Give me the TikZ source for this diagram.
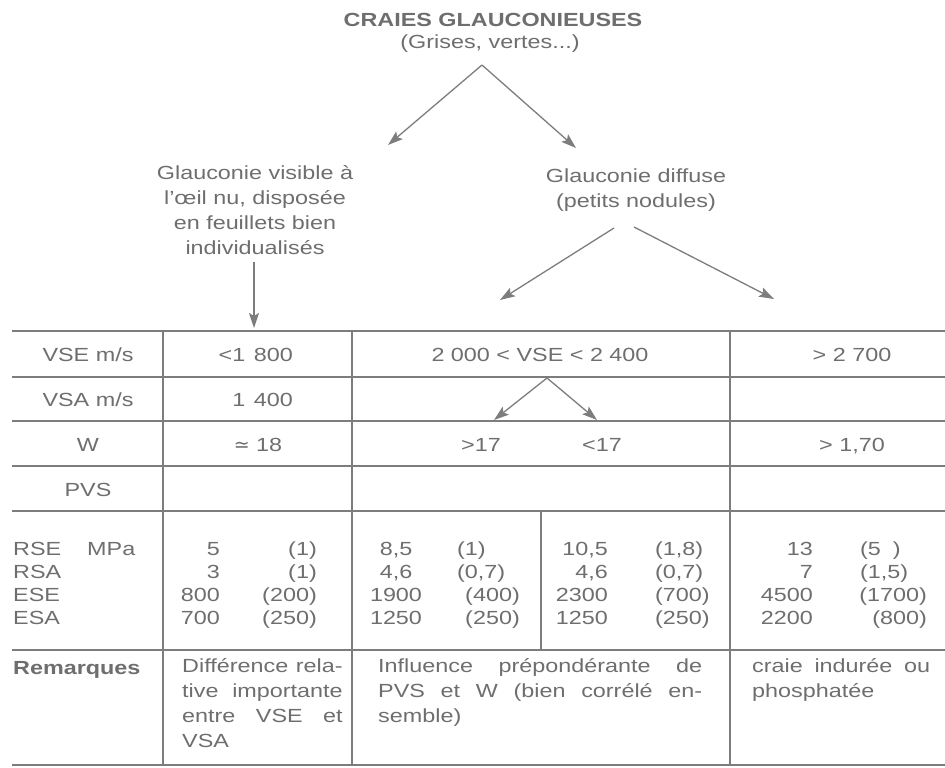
\documentclass[tikz,border=0pt]{standalone}
\usepackage{fontspec}
\setmainfont{Liberation Sans}[FakeStretch=1.23]
\newfontfamily\symfont{DejaVu Sans}
\usepackage{tikz}
\usetikzlibrary{arrows.meta}
\hbadness=10000

\definecolor{inkgray}{RGB}{110,110,110}
\definecolor{linegray}{RGB}{125,125,125}

\tikzset{
    txt/.style={text=inkgray, inner sep=0pt, font=\fontsize{19}{25}\selectfont},
    remtxt/.style={txt, anchor=north west, align=justify, font=\fontsize{19}{25}\selectfont},
    arr/.style={draw=linegray, line width=1.3pt, -{Stealth[length=15pt,width=10pt,inset=3pt]}},
    hline/.style={draw=linegray, line width=1.6pt},
    vline/.style={draw=linegray, line width=1.1pt}
}

\begin{document}
\begin{tikzpicture}[x=1pt, y=-1pt]
    \useasboundingbox (0,0) rectangle (945,768);

    % heading and the two kinds
    \node[txt, font=\fontsize{19}{25}\selectfont\bfseries] (title) at (493,20) {CRAIES GLAUCONIEUSES};
    \node[txt] (sub) at (490,44) {(Grises, vertes...)};
    \node[txt, align=center] (vis) at (255,210) {Glauconie visible à\\l'œil nu, disposée\\en feuillets bien\\individualisés};
    \node[txt, align=center] (dif) at (636,190) {Glauconie diffuse\\(petits nodules)};

    \coordinate (split) at (482,65);
    \coordinate (tipvis) at (388,145);
    \coordinate (tipdif) at (576,148);
    \draw[arr] (split) -- (tipvis);
    \draw[arr] (split) -- (tipdif);

    \coordinate (visfoot) at (254,262);
    \coordinate (tabtop) at (254,328);
    \draw[arr] (visfoot) -- (tabtop);

    \coordinate (difl) at (614,228);
    \coordinate (difr) at (634,227);
    \coordinate (tipl) at (500,300);
    \coordinate (tipr) at (774,299);
    \draw[arr] (difl) -- (tipl);
    \draw[arr] (difr) -- (tipr);

    % table rules
    \foreach \y in {331,377,421,466,511,650,765}
        \draw[hline] (12,\y) -- (945,\y);
    \foreach \x in {163,352,730}
        \draw[vline] (\x,331) -- (\x,765);
    \draw[vline] (541,511) -- (541,650);

    % first rows
    \node[txt, anchor=base] (vse) at (88,361) {VSE m/s};
    \node[txt, anchor=base] (vsa) at (88,406) {VSA m/s};
    \node[txt, anchor=base] (w) at (88,451) {W};
    \node[txt, anchor=base] (pvs) at (88,496) {PVS};

    \node[txt, anchor=base east] (vseA) at (293,361) {<1\hspace{0.45em}800};
    \node[txt, anchor=base east] (vsaA) at (293,406) {1\hspace{0.45em}400};
    \node[txt, anchor=base] (wA) at (258,451) {{\symfont ≃} 18};

    \node[txt, anchor=base] (vseB) at (540,361) {2 000 < VSE < 2 400};
    \node[txt, anchor=base] (wBgt) at (481,451) {>17};
    \node[txt, anchor=base] (wBlt) at (602,451) {<17};

    \node[txt, anchor=base] (vseC) at (852,361) {> 2 700};
    \node[txt, anchor=base] (wC) at (852,451) {> 1,70};

    \coordinate (wsplit) at (547,378);
    \coordinate (tipgt) at (494,420);
    \coordinate (tiplt) at (597,420);
    \draw[arr] (wsplit) -- (tipgt);
    \draw[arr] (wsplit) -- (tiplt);

    % strengths and moduli
    \foreach \v [count=\i] in {RSE\hspace{26pt}MPa,RSA,ESE,ESA}
        \node[txt, anchor=base west] (lab\i) at (13,532+23*\i) {\v};

    \foreach \v [count=\i] in {5,3,800,700}
        \node[txt, anchor=base east] (aval\i) at (220,532+23*\i) {\v};
    \foreach \v [count=\i] in {(1),(1),(200),(250)}
        \node[txt, anchor=base east] (adev\i) at (317,532+23*\i) {\v};

    \foreach \v [count=\i] in {{8,5},{4,6},1900,1250}
        \node[txt, anchor=base] (bval\i) at (396,532+23*\i) {\v};
    \foreach \v/\a/\x [count=\i] in {(1)/west/457,{(0,7)}/west/457,(400)/east/520,(250)/east/520}
        \node[txt, anchor=base \a] (bdev\i) at (\x,532+23*\i) {\v};

    \foreach \v [count=\i] in {{10,5},{4,6},2300,1250}
        \node[txt, anchor=base east] (cval\i) at (608,532+23*\i) {\v};
    \foreach \v [count=\i] in {{(1,8)},{(0,7)},(700),(250)}
        \node[txt, anchor=base west] (cdev\i) at (655,532+23*\i) {\v};

    \foreach \v [count=\i] in {13,7,4500,2200}
        \node[txt, anchor=base east] (dval\i) at (813,532+23*\i) {\v};
    \foreach \v/\a/\x [count=\i] in {(5\hspace{12pt})/west/860,{(1,5)}/west/860,(1700)/east/927,(800)/east/927}
        \node[txt, anchor=base \a] (ddev\i) at (\x,532+23*\i) {\v};

    % remarks
    \node[txt, anchor=base west, font=\fontsize{19}{25}\selectfont\bfseries] (rem) at (13,674) {Remarques};
    \node[remtxt, text width=160.5pt] (remA) at (182,658) {Différence rela-\linebreak tive importante\linebreak entre VSE et\linebreak VSA};
    \node[remtxt, text width=324pt] (remB) at (378,658) {Influence prépondérante de\linebreak PVS et W (bien corrélé en-\linebreak semble)};
    \node[remtxt, text width=178pt] (remC) at (752,658) {craie indurée ou\linebreak phosphatée};
\end{tikzpicture}
\end{document}
